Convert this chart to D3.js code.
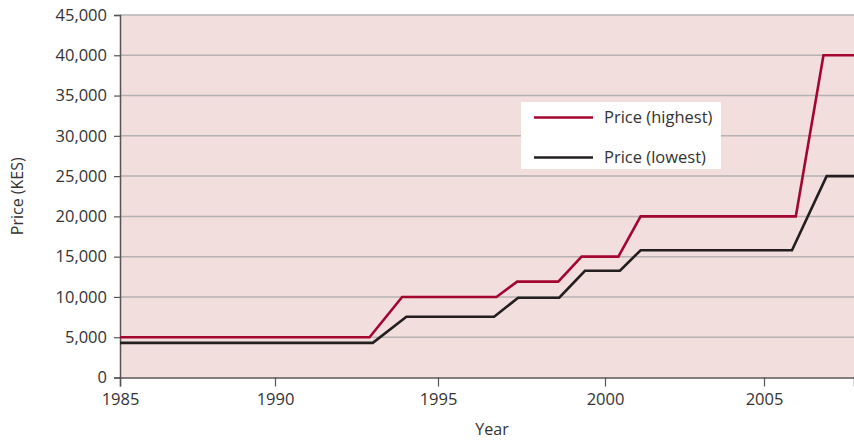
<!DOCTYPE html>
<html>
<head>
<meta charset="utf-8">
<script src="https://cdn.jsdelivr.net/npm/d3@7"></script>
<style>
  html, body { margin: 0; padding: 0; background: #ffffff; }
  svg { display: block; }
  text { font-family: "Open Sans", "Noto Sans", sans-serif; fill: #333333; }
</style>
</head>
<body>
<svg id="chart" width="854" height="441"></svg>
<script>
// ---- data ----
const yearTicks = [1985, 1990, 1995, 2000, 2005];
const valueTicks = [0, 5000, 10000, 15000, 20000, 25000, 30000, 35000, 40000, 45000];
const seriesNames = ["Price (highest)", "Price (lowest)"];
const highestYears  = [1985, 1992.9, 1993.9, 1996.75, 1997.37, 1998.6, 1999.3, 2000.42, 2001.12, 2006.0, 2006.87, 2007.83];
const highestValues = [5000, 5000, 10000, 10000, 11900, 11900, 15000, 15000, 20000, 20000, 40000, 40000];
const lowestYears   = [1985, 1993.0, 1994.03, 1996.68, 1997.4, 1998.63, 1999.4, 2000.47, 2001.12, 2005.88, 2006.97, 2007.83];
const lowestValues  = [4300, 4300, 7550, 7550, 9900, 9900, 13250, 13250, 15800, 15800, 25000, 25000];

const colors = ["#a3072f", "#231f20"];

// ---- layout ----
const svg = d3.select("#chart");
const plotL = 120, plotR = 854, plotT = 15, plotB = 377.5;

const x = d3.scaleLinear()
  .domain([1985, 1990, 1995, 2000, 2005, 2007.83])
  .range([plotL, 275, 438, 605, 764, plotR]);
const y = d3.scaleLinear().domain([0, 45000]).range([plotB, plotT]);

// plot background
svg.append("rect")
  .attr("x", plotL).attr("y", plotT)
  .attr("width", plotR - plotL).attr("height", plotB - plotT)
  .attr("fill", "#f2dedd");

// gridlines
svg.append("g").selectAll("line")
  .data(valueTicks.filter(v => v > 0))
  .join("line")
  .attr("x1", plotL).attr("x2", plotR)
  .attr("y1", d => y(d)).attr("y2", d => y(d))
  .attr("stroke", "#b4b2b2").attr("stroke-width", 1.5);

// y axis
const yAxis = svg.append("g")
  .attr("transform", `translate(${plotL},0)`)
  .call(d3.axisLeft(y).tickValues(valueTicks).tickSize(6).tickPadding(7)
    .tickFormat(d3.format(",")));
yAxis.select(".domain").attr("stroke", "#555555").attr("stroke-width", 1.5);
yAxis.selectAll(".tick line").attr("stroke", "#555555").attr("stroke-width", 1.2);
yAxis.selectAll(".tick text").style("font-size", "16.5px").attr("fill", "#333333")
  .style("font-family", "'Open Sans', sans-serif");

// x axis
const xAxis = svg.append("g")
  .attr("transform", `translate(0,${plotB})`)
  .call(d3.axisBottom(x).tickValues(yearTicks).tickSize(9).tickPadding(7)
    .tickFormat(d3.format("d")));
xAxis.select(".domain").attr("stroke", "#555555").attr("stroke-width", 1.5);
xAxis.selectAll(".tick line").attr("stroke", "#555555").attr("stroke-width", 1.2);
xAxis.selectAll(".tick text").style("font-size", "16.5px").attr("fill", "#333333")
  .style("font-family", "'Open Sans', sans-serif");

// lines
const series = [
  { name: seriesNames[0], pts: highestYears.map((yr, i) => [yr, highestValues[i]]) },
  { name: seriesNames[1], pts: lowestYears.map((yr, i) => [yr, lowestValues[i]]) }
];
const line = d3.line().x(d => x(d[0])).y(d => y(d[1]));
svg.append("g").selectAll("path")
  .data(series)
  .join("path")
  .attr("d", d => line(d.pts))
  .attr("fill", "none")
  .attr("stroke", (d, i) => colors[i])
  .attr("stroke-width", 2.6)
  .attr("stroke-linejoin", "miter");

// legend
const lg = svg.append("g");
lg.append("rect").attr("x", 521).attr("y", 102).attr("width", 200).attr("height", 67)
  .attr("fill", "#ffffff");
seriesNames.forEach((n, i) => {
  const ly = 117.5 + i * 40;
  lg.append("line").attr("x1", 534).attr("x2", 593).attr("y1", ly).attr("y2", ly)
    .attr("stroke", colors[i]).attr("stroke-width", 2.6);
  lg.append("text").attr("x", 604).attr("y", ly).attr("dy", "0.35em")
    .style("font-size", "16.5px").text(n);
});

// axis titles
svg.append("text").attr("x", 492).attr("y", 435)
  .attr("text-anchor", "middle").style("font-size", "16px").text("Year");
svg.append("text")
  .attr("transform", `translate(23,${(plotT + plotB) / 2}) rotate(-90)`)
  .attr("text-anchor", "middle").style("font-size", "16px").text("Price (KES)");
</script>
</body>
</html>
